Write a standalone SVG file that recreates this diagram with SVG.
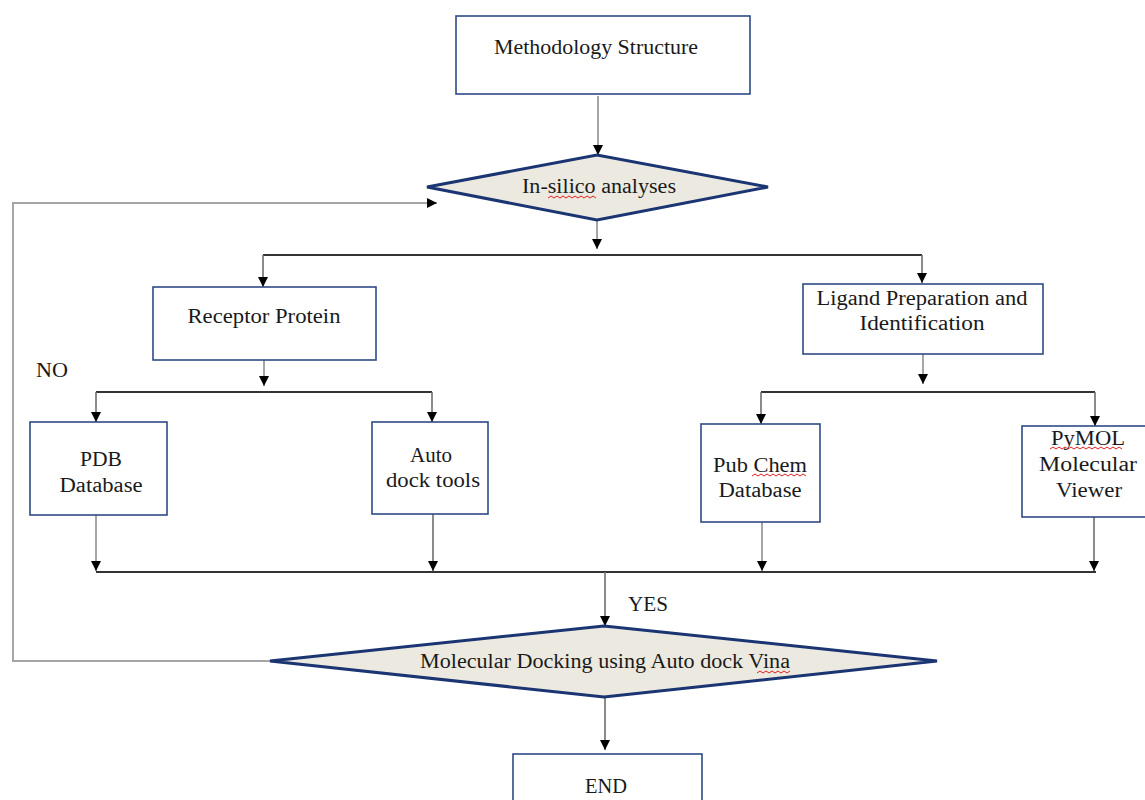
<svg xmlns="http://www.w3.org/2000/svg" width="1145" height="800" viewBox="0 0 1145 800">
<style>
.box{fill:#fff;stroke:#2E4A86;stroke-width:1.6}
.dia{fill:#ECEAE0;stroke:#1B3573;stroke-width:3}
.t{font-family:"Liberation Serif","Times New Roman",serif;font-size:20px;fill:#1a1a1a;text-anchor:middle}
.tl{font-family:"Liberation Serif","Times New Roman",serif;font-size:20px;fill:#1a1a1a}
.g{fill:none;stroke:#a6a6a6;stroke-width:2}
.v{fill:none;stroke:#6e6e6e;stroke-width:1.6}
.h{fill:none;stroke:#333;stroke-width:2}
.sq{fill:none;stroke:#e02020;stroke-width:1}
</style>
<defs>
<marker id="ah" viewBox="0 0 10 10" refX="10" refY="5" markerWidth="10" markerHeight="10" orient="auto" markerUnits="userSpaceOnUse">
<path d="M0,0 L10,5 L0,10 z" fill="#000"/>
</marker>
</defs>
<g id="connectors">
<path class="g" d="M598,96 V155" marker-end="url(#ah)"/>
<path class="g" d="M597,220 V249" marker-end="url(#ah)"/>
<path class="h" d="M263,255 H922"/>
<path class="v" d="M263,255 V287" marker-end="url(#ah)"/>
<path class="v" d="M922,255 V283" marker-end="url(#ah)"/>
<path class="g" d="M270,661 H13 V203 H437" marker-end="url(#ah)"/>
<path class="g" d="M264,360 V386" marker-end="url(#ah)"/>
<path class="h" d="M96,392 H432"/>
<path class="v" d="M96,392 V422" marker-end="url(#ah)"/>
<path class="v" d="M432,392 V422" marker-end="url(#ah)"/>
<path class="g" d="M923,354 V384" marker-end="url(#ah)"/>
<path class="h" d="M761,392 H1095"/>
<path class="v" d="M761,392 V424" marker-end="url(#ah)"/>
<path class="v" d="M1095,392 V426" marker-end="url(#ah)"/>
<path class="g" d="M96,515 V571" marker-end="url(#ah)"/>
<path class="v" d="M433,514 V571" marker-end="url(#ah)"/>
<path class="g" d="M762,522 V571" marker-end="url(#ah)"/>
<path class="v" d="M1094,517 V571" marker-end="url(#ah)"/>
<path class="h" d="M96,572 H1096"/>
<path class="v" d="M605,572 V626" marker-end="url(#ah)"/>
<path class="v" d="M605,697 V750" marker-end="url(#ah)"/>
</g>
<g id="n-methodology">
<rect class="box" x="456" y="16" width="294" height="78"/>
<text class="t" x="596" y="54" textLength="204" lengthAdjust="spacingAndGlyphs">Methodology Structure</text>
</g>
<g id="n-insilico">
<polygon class="dia" points="427,187 597,155 768,187 597,220"/>
<text class="t" x="599" y="193" textLength="154" lengthAdjust="spacingAndGlyphs">In-silico analyses</text>
<path class="sq" d="M548,198 l3,-2 l3,2 l3,-2 l3,2 l3,-2 l3,2 l3,-2 l3,2 l3,-2 l3,2 l3,-2 l3,2 l3,-2 l3,2 l3,-2 l3,2"/>
</g>
<g id="n-receptor">
<rect class="box" x="153" y="287" width="223" height="73"/>
<text class="t" x="264" y="323" textLength="153" lengthAdjust="spacingAndGlyphs">Receptor Protein</text>
</g>
<g id="n-ligand">
<rect class="box" x="803" y="284" width="240" height="70"/>
<text class="t" x="922" y="305" textLength="211" lengthAdjust="spacingAndGlyphs">Ligand Preparation and</text>
<text class="t" x="922" y="330" textLength="125" lengthAdjust="spacingAndGlyphs">Identification</text>
</g>
<g id="n-pdb">
<rect class="box" x="30" y="422" width="137" height="93"/>
<text class="t" x="101" y="466" textLength="42" lengthAdjust="spacingAndGlyphs">PDB</text>
<text class="t" x="101" y="492" textLength="83" lengthAdjust="spacingAndGlyphs">Database</text>
</g>
<g id="n-autodock">
<rect class="box" x="372" y="422" width="116" height="92"/>
<text class="t" x="431" y="462" textLength="42" lengthAdjust="spacingAndGlyphs">Auto</text>
<text class="t" x="433" y="487" textLength="94" lengthAdjust="spacingAndGlyphs">dock tools</text>
</g>
<g id="n-pubchem">
<rect class="box" x="701" y="424" width="119" height="98"/>
<text class="t" x="760" y="472" textLength="94" lengthAdjust="spacingAndGlyphs">Pub Chem</text>
<text class="t" x="760" y="497" textLength="83" lengthAdjust="spacingAndGlyphs">Database</text>
<path class="sq" d="M752,476 l3,-2 l3,2 l3,-2 l3,2 l3,-2 l3,2 l3,-2 l3,2 l3,-2 l3,2 l3,-2 l3,2 l3,-2 l3,2 l3,-2 l3,2 l3,-2 l3,2"/>
</g>
<g id="n-pymol">
<rect class="box" x="1022" y="426" width="130" height="91"/>
<text class="t" x="1088" y="445" textLength="74" lengthAdjust="spacingAndGlyphs">PyMOL</text>
<text class="t" x="1088" y="471" textLength="98" lengthAdjust="spacingAndGlyphs">Molecular</text>
<text class="t" x="1089" y="497" textLength="66" lengthAdjust="spacingAndGlyphs">Viewer</text>
<path class="sq" d="M1050,449 l3,-2 l3,2 l3,-2 l3,2 l3,-2 l3,2 l3,-2 l3,2 l3,-2 l3,2 l3,-2 l3,2 l3,-2 l3,2 l3,-2 l3,2 l3,-2 l3,2 l3,-2 l3,2 l3,-2 l3,2 l3,-2 l3,2"/>
</g>
<g id="n-docking">
<polygon class="dia" points="270,661 604,626 937,661 604,697"/>
<text class="t" x="605" y="668" textLength="370" lengthAdjust="spacingAndGlyphs">Molecular Docking using Auto dock Vina</text>
<path class="sq" d="M757,673 l3,-2 l3,2 l3,-2 l3,2 l3,-2 l3,2 l3,-2 l3,2 l3,-2 l3,2 l3,-2"/>
</g>
<g id="n-end">
<rect class="box" x="513" y="754" width="189" height="60"/>
<text class="t" x="606" y="793" textLength="42" lengthAdjust="spacingAndGlyphs">END</text>
</g>
<g id="labels">
<text class="tl" x="36" y="377" textLength="32" lengthAdjust="spacingAndGlyphs">NO</text>
<text class="tl" x="628" y="611" textLength="40" lengthAdjust="spacingAndGlyphs">YES</text>
</g>
</svg>
